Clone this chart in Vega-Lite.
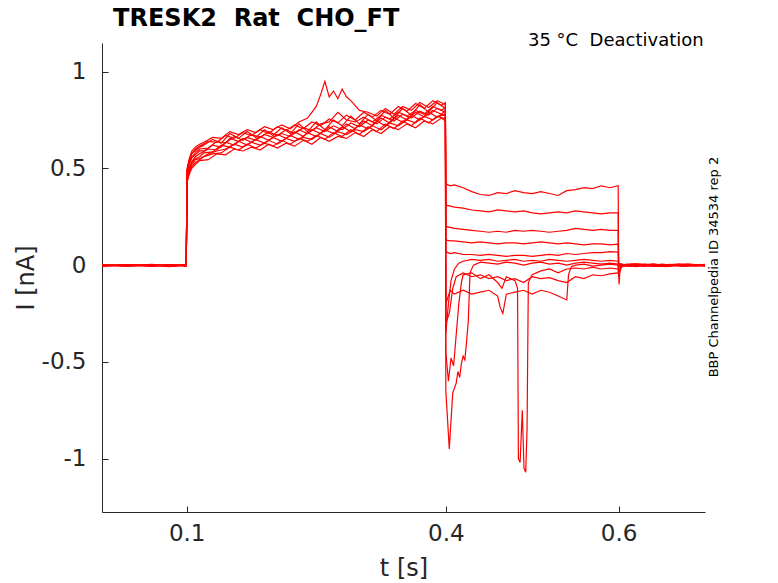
{
  "$schema": "https://vega.github.io/schema/vega-lite/v6.json",
  "width": 603,
  "height": 469,
  "autosize": "none",
  "padding": {"left": 102, "top": 43, "right": 73, "bottom": 71},
  "background": "white",
  "title": {
    "text": "TRESK2\u00a0\u00a0Rat\u00a0\u00a0CHO_FT",
    "anchor": "start",
    "font": "DejaVu Sans",
    "fontSize": 24,
    "fontWeight": "bold",
    "color": "#000000",
    "baseline": "bottom",
    "offset": -23,
    "dx": 99
  },
  "datasets": {
    "notes": [
      {"label": "35 °C\u00a0\u00a0Deactivation", "t": 0.6985, "i": 1.159, "a": 0},
      {"label": "BBP Channelpedia ID 34534 rep 2", "t": 0.7109, "i": -0.01, "a": 270}
    ]
  },
  "data": {
    "values": [
      {"s":1,"t":0.002,"i":0},{"s":1,"t":0.03,"i":-0.004},{"s":1,"t":0.06,"i":0.003},{"s":1,"t":0.08,"i":-0.005},{"s":1,"t":0.0995,"i":0.001},
      {"s":1,"t":0.1005,"i":0.49},{"s":1,"t":0.103,"i":0.54},{"s":1,"t":0.106,"i":0.58},{"s":1,"t":0.11,"i":0.59},{"s":1,"t":0.115,"i":0.61},{"s":1,"t":0.12,"i":0.62},
      {"s":1,"t":0.13,"i":0.65},{"s":1,"t":0.14,"i":0.63},{"s":1,"t":0.15,"i":0.68},{"s":1,"t":0.16,"i":0.655},{"s":1,"t":0.17,"i":0.69},{"s":1,"t":0.18,"i":0.66},
      {"s":1,"t":0.19,"i":0.7},{"s":1,"t":0.2,"i":0.67},{"s":1,"t":0.21,"i":0.71},{"s":1,"t":0.22,"i":0.68},{"s":1,"t":0.23,"i":0.73},{"s":1,"t":0.24,"i":0.69},
      {"s":1,"t":0.25,"i":0.74},{"s":1,"t":0.26,"i":0.7},{"s":1,"t":0.27,"i":0.75},{"s":1,"t":0.28,"i":0.72},{"s":1,"t":0.29,"i":0.77},{"s":1,"t":0.3,"i":0.73},
      {"s":1,"t":0.31,"i":0.78},{"s":1,"t":0.32,"i":0.745},{"s":1,"t":0.33,"i":0.8},{"s":1,"t":0.34,"i":0.76},{"s":1,"t":0.35,"i":0.81},{"s":1,"t":0.36,"i":0.775},
      {"s":1,"t":0.37,"i":0.83},{"s":1,"t":0.38,"i":0.79},{"s":1,"t":0.39,"i":0.84},{"s":1,"t":0.3995,"i":0.81},
      {"s":1,"t":0.4,"i":0.42},{"s":1,"t":0.405,"i":0.41},{"s":1,"t":0.41,"i":0.415},{"s":1,"t":0.42,"i":0.4},{"s":1,"t":0.43,"i":0.38},{"s":1,"t":0.44,"i":0.365},
      {"s":1,"t":0.45,"i":0.36},{"s":1,"t":0.46,"i":0.375},{"s":1,"t":0.47,"i":0.37},{"s":1,"t":0.48,"i":0.385},{"s":1,"t":0.49,"i":0.375},{"s":1,"t":0.5,"i":0.37},
      {"s":1,"t":0.51,"i":0.38},{"s":1,"t":0.52,"i":0.37},{"s":1,"t":0.53,"i":0.36},{"s":1,"t":0.54,"i":0.385},{"s":1,"t":0.55,"i":0.39},{"s":1,"t":0.56,"i":0.4},
      {"s":1,"t":0.57,"i":0.395},{"s":1,"t":0.58,"i":0.41},{"s":1,"t":0.59,"i":0.4},{"s":1,"t":0.5995,"i":0.41},
      {"s":1,"t":0.6,"i":-0.02},{"s":1,"t":0.6005,"i":-0.1},{"s":1,"t":0.602,"i":0},{"s":1,"t":0.62,"i":0.005},{"s":1,"t":0.64,"i":-0.006},{"s":1,"t":0.66,"i":0.003},{"s":1,"t":0.68,"i":-0.004},{"s":1,"t":0.7,"i":0.002},

      {"s":2,"t":0.002,"i":-0.003},{"s":2,"t":0.03,"i":0.002},{"s":2,"t":0.06,"i":-0.006},{"s":2,"t":0.08,"i":0.002},{"s":2,"t":0.0995,"i":-0.002},
      {"s":2,"t":0.1005,"i":0.44},{"s":2,"t":0.103,"i":0.49},{"s":2,"t":0.106,"i":0.52},{"s":2,"t":0.11,"i":0.545},{"s":2,"t":0.115,"i":0.55},{"s":2,"t":0.125,"i":0.575},
      {"s":2,"t":0.135,"i":0.59},{"s":2,"t":0.145,"i":0.6},{"s":2,"t":0.155,"i":0.625},{"s":2,"t":0.165,"i":0.61},{"s":2,"t":0.175,"i":0.635},{"s":2,"t":0.185,"i":0.62},
      {"s":2,"t":0.195,"i":0.645},{"s":2,"t":0.205,"i":0.625},{"s":2,"t":0.215,"i":0.655},{"s":2,"t":0.225,"i":0.64},{"s":2,"t":0.235,"i":0.66},{"s":2,"t":0.245,"i":0.65},
      {"s":2,"t":0.255,"i":0.68},{"s":2,"t":0.265,"i":0.66},{"s":2,"t":0.275,"i":0.69},{"s":2,"t":0.285,"i":0.675},{"s":2,"t":0.295,"i":0.7},{"s":2,"t":0.305,"i":0.69},
      {"s":2,"t":0.315,"i":0.72},{"s":2,"t":0.325,"i":0.7},{"s":2,"t":0.335,"i":0.735},{"s":2,"t":0.345,"i":0.72},{"s":2,"t":0.355,"i":0.75},{"s":2,"t":0.365,"i":0.735},
      {"s":2,"t":0.375,"i":0.77},{"s":2,"t":0.385,"i":0.75},{"s":2,"t":0.395,"i":0.78},{"s":2,"t":0.3995,"i":0.77},
      {"s":2,"t":0.4,"i":0.31},{"s":2,"t":0.405,"i":0.305},{"s":2,"t":0.41,"i":0.3},{"s":2,"t":0.42,"i":0.295},{"s":2,"t":0.43,"i":0.285},{"s":2,"t":0.44,"i":0.28},
      {"s":2,"t":0.45,"i":0.275},{"s":2,"t":0.46,"i":0.285},{"s":2,"t":0.47,"i":0.28},{"s":2,"t":0.48,"i":0.275},{"s":2,"t":0.49,"i":0.28},{"s":2,"t":0.5,"i":0.27},
      {"s":2,"t":0.51,"i":0.265},{"s":2,"t":0.52,"i":0.27},{"s":2,"t":0.53,"i":0.275},{"s":2,"t":0.54,"i":0.27},{"s":2,"t":0.55,"i":0.28},{"s":2,"t":0.56,"i":0.275},
      {"s":2,"t":0.57,"i":0.27},{"s":2,"t":0.58,"i":0.265},{"s":2,"t":0.59,"i":0.27},{"s":2,"t":0.5995,"i":0.27},
      {"s":2,"t":0.6,"i":0},{"s":2,"t":0.61,"i":-0.005},{"s":2,"t":0.63,"i":0.004},{"s":2,"t":0.65,"i":-0.003},{"s":2,"t":0.67,"i":0.006},{"s":2,"t":0.69,"i":-0.005},{"s":2,"t":0.7,"i":0},

      {"s":3,"t":0.002,"i":0.002},{"s":3,"t":0.03,"i":-0.005},{"s":3,"t":0.06,"i":0},{"s":3,"t":0.08,"i":-0.003},{"s":3,"t":0.0995,"i":0.003},
      {"s":3,"t":0.1005,"i":0.47},{"s":3,"t":0.103,"i":0.52},{"s":3,"t":0.106,"i":0.555},{"s":3,"t":0.11,"i":0.57},{"s":3,"t":0.115,"i":0.59},{"s":3,"t":0.12,"i":0.59},
      {"s":3,"t":0.13,"i":0.62},{"s":3,"t":0.14,"i":0.61},{"s":3,"t":0.15,"i":0.655},{"s":3,"t":0.16,"i":0.64},{"s":3,"t":0.17,"i":0.66},{"s":3,"t":0.18,"i":0.645},
      {"s":3,"t":0.19,"i":0.675},{"s":3,"t":0.2,"i":0.66},{"s":3,"t":0.21,"i":0.68},{"s":3,"t":0.22,"i":0.665},{"s":3,"t":0.23,"i":0.7},{"s":3,"t":0.24,"i":0.68},
      {"s":3,"t":0.25,"i":0.71},{"s":3,"t":0.26,"i":0.69},{"s":3,"t":0.27,"i":0.72},{"s":3,"t":0.28,"i":0.7},{"s":3,"t":0.29,"i":0.735},{"s":3,"t":0.3,"i":0.715},
      {"s":3,"t":0.31,"i":0.75},{"s":3,"t":0.32,"i":0.73},{"s":3,"t":0.33,"i":0.765},{"s":3,"t":0.34,"i":0.745},{"s":3,"t":0.35,"i":0.78},{"s":3,"t":0.36,"i":0.76},
      {"s":3,"t":0.37,"i":0.795},{"s":3,"t":0.38,"i":0.775},{"s":3,"t":0.39,"i":0.81},{"s":3,"t":0.3995,"i":0.79},
      {"s":3,"t":0.4,"i":0.2},{"s":3,"t":0.405,"i":0.195},{"s":3,"t":0.41,"i":0.19},{"s":3,"t":0.42,"i":0.185},{"s":3,"t":0.43,"i":0.18},{"s":3,"t":0.44,"i":0.175},
      {"s":3,"t":0.45,"i":0.17},{"s":3,"t":0.46,"i":0.175},{"s":3,"t":0.47,"i":0.17},{"s":3,"t":0.48,"i":0.18},{"s":3,"t":0.49,"i":0.175},{"s":3,"t":0.5,"i":0.18},
      {"s":3,"t":0.51,"i":0.175},{"s":3,"t":0.52,"i":0.17},{"s":3,"t":0.53,"i":0.175},{"s":3,"t":0.54,"i":0.18},{"s":3,"t":0.55,"i":0.19},{"s":3,"t":0.56,"i":0.185},
      {"s":3,"t":0.57,"i":0.18},{"s":3,"t":0.58,"i":0.185},{"s":3,"t":0.59,"i":0.18},{"s":3,"t":0.5995,"i":0.18},
      {"s":3,"t":0.6,"i":0},{"s":3,"t":0.615,"i":0.006},{"s":3,"t":0.635,"i":-0.004},{"s":3,"t":0.655,"i":0.002},{"s":3,"t":0.675,"i":-0.007},{"s":3,"t":0.695,"i":0.004},

      {"s":4,"t":0.002,"i":-0.005},{"s":4,"t":0.03,"i":0.001},{"s":4,"t":0.06,"i":-0.003},{"s":4,"t":0.08,"i":0.003},{"s":4,"t":0.0995,"i":-0.004},
      {"s":4,"t":0.1005,"i":0.43},{"s":4,"t":0.103,"i":0.47},{"s":4,"t":0.106,"i":0.5},{"s":4,"t":0.11,"i":0.52},{"s":4,"t":0.115,"i":0.54},{"s":4,"t":0.125,"i":0.545},
      {"s":4,"t":0.135,"i":0.575},{"s":4,"t":0.145,"i":0.57},{"s":4,"t":0.155,"i":0.6},{"s":4,"t":0.165,"i":0.59},{"s":4,"t":0.175,"i":0.61},{"s":4,"t":0.185,"i":0.595},
      {"s":4,"t":0.195,"i":0.625},{"s":4,"t":0.205,"i":0.605},{"s":4,"t":0.215,"i":0.63},{"s":4,"t":0.225,"i":0.615},{"s":4,"t":0.235,"i":0.645},{"s":4,"t":0.245,"i":0.625},
      {"s":4,"t":0.255,"i":0.66},{"s":4,"t":0.265,"i":0.64},{"s":4,"t":0.275,"i":0.665},{"s":4,"t":0.285,"i":0.655},{"s":4,"t":0.295,"i":0.685},{"s":4,"t":0.305,"i":0.665},
      {"s":4,"t":0.315,"i":0.7},{"s":4,"t":0.325,"i":0.68},{"s":4,"t":0.335,"i":0.715},{"s":4,"t":0.345,"i":0.7},{"s":4,"t":0.355,"i":0.73},{"s":4,"t":0.365,"i":0.71},
      {"s":4,"t":0.375,"i":0.745},{"s":4,"t":0.385,"i":0.73},{"s":4,"t":0.395,"i":0.76},{"s":4,"t":0.3995,"i":0.745},
      {"s":4,"t":0.4,"i":0.13},{"s":4,"t":0.405,"i":0.125},{"s":4,"t":0.41,"i":0.125},{"s":4,"t":0.42,"i":0.12},{"s":4,"t":0.43,"i":0.115},{"s":4,"t":0.44,"i":0.12},
      {"s":4,"t":0.45,"i":0.115},{"s":4,"t":0.46,"i":0.11},{"s":4,"t":0.47,"i":0.115},{"s":4,"t":0.48,"i":0.115},{"s":4,"t":0.49,"i":0.11},{"s":4,"t":0.5,"i":0.115},
      {"s":4,"t":0.51,"i":0.12},{"s":4,"t":0.52,"i":0.115},{"s":4,"t":0.53,"i":0.11},{"s":4,"t":0.54,"i":0.115},{"s":4,"t":0.55,"i":0.11},{"s":4,"t":0.56,"i":0.105},
      {"s":4,"t":0.57,"i":0.11},{"s":4,"t":0.58,"i":0.11},{"s":4,"t":0.59,"i":0.105},{"s":4,"t":0.5995,"i":0.108},
      {"s":4,"t":0.6,"i":0.005},{"s":4,"t":0.62,"i":-0.008},{"s":4,"t":0.64,"i":0.004},{"s":4,"t":0.66,"i":-0.002},{"s":4,"t":0.68,"i":0.007},{"s":4,"t":0.7,"i":-0.003},

      {"s":5,"t":0.002,"i":0.001},{"s":5,"t":0.03,"i":-0.002},{"s":5,"t":0.06,"i":0.004},{"s":5,"t":0.08,"i":-0.007},{"s":5,"t":0.0995,"i":0},
      {"s":5,"t":0.1005,"i":0.5},{"s":5,"t":0.103,"i":0.55},{"s":5,"t":0.106,"i":0.59},{"s":5,"t":0.11,"i":0.61},{"s":5,"t":0.115,"i":0.625},{"s":5,"t":0.12,"i":0.635},
      {"s":5,"t":0.13,"i":0.66},{"s":5,"t":0.14,"i":0.655},{"s":5,"t":0.15,"i":0.69},{"s":5,"t":0.16,"i":0.675},{"s":5,"t":0.17,"i":0.7},{"s":5,"t":0.18,"i":0.685},
      {"s":5,"t":0.19,"i":0.715},{"s":5,"t":0.2,"i":0.7},{"s":5,"t":0.21,"i":0.725},{"s":5,"t":0.22,"i":0.705},{"s":5,"t":0.23,"i":0.74},{"s":5,"t":0.24,"i":0.76},
      {"s":5,"t":0.25,"i":0.82},{"s":5,"t":0.255,"i":0.88},{"s":5,"t":0.26,"i":0.95},{"s":5,"t":0.265,"i":0.87},{"s":5,"t":0.27,"i":0.9},{"s":5,"t":0.275,"i":0.86},
      {"s":5,"t":0.28,"i":0.91},{"s":5,"t":0.285,"i":0.87},{"s":5,"t":0.29,"i":0.85},{"s":5,"t":0.3,"i":0.8},{"s":5,"t":0.31,"i":0.79},{"s":5,"t":0.32,"i":0.77},
      {"s":5,"t":0.33,"i":0.81},{"s":5,"t":0.34,"i":0.78},{"s":5,"t":0.35,"i":0.82},{"s":5,"t":0.36,"i":0.8},{"s":5,"t":0.37,"i":0.84},{"s":5,"t":0.38,"i":0.815},
      {"s":5,"t":0.39,"i":0.85},{"s":5,"t":0.3995,"i":0.83},
      {"s":5,"t":0.4,"i":0.07},{"s":5,"t":0.405,"i":0.06},{"s":5,"t":0.41,"i":0.065},{"s":5,"t":0.42,"i":0.055},{"s":5,"t":0.43,"i":0.055},{"s":5,"t":0.44,"i":0.05},
      {"s":5,"t":0.45,"i":0.055},{"s":5,"t":0.46,"i":0.05},{"s":5,"t":0.47,"i":0.045},{"s":5,"t":0.48,"i":0.05},{"s":5,"t":0.49,"i":0.05},{"s":5,"t":0.5,"i":0.045},
      {"s":5,"t":0.51,"i":0.05},{"s":5,"t":0.52,"i":0.055},{"s":5,"t":0.53,"i":0.05},{"s":5,"t":0.54,"i":0.06},{"s":5,"t":0.55,"i":0.055},{"s":5,"t":0.56,"i":0.06},
      {"s":5,"t":0.57,"i":0.065},{"s":5,"t":0.58,"i":0.065},{"s":5,"t":0.59,"i":0.07},{"s":5,"t":0.5995,"i":0.067},
      {"s":5,"t":0.6,"i":-0.04},{"s":5,"t":0.605,"i":0},{"s":5,"t":0.625,"i":0.005},{"s":5,"t":0.645,"i":-0.006},{"s":5,"t":0.665,"i":0.003},{"s":5,"t":0.685,"i":-0.003},{"s":5,"t":0.7,"i":0.004},

      {"s":6,"t":0.002,"i":-0.002},{"s":6,"t":0.03,"i":0.003},{"s":6,"t":0.06,"i":-0.004},{"s":6,"t":0.08,"i":0},{"s":6,"t":0.0995,"i":-0.003},
      {"s":6,"t":0.1005,"i":0.46},{"s":6,"t":0.103,"i":0.5},{"s":6,"t":0.106,"i":0.535},{"s":6,"t":0.11,"i":0.56},{"s":6,"t":0.115,"i":0.575},{"s":6,"t":0.125,"i":0.6},
      {"s":6,"t":0.135,"i":0.595},{"s":6,"t":0.145,"i":0.635},{"s":6,"t":0.155,"i":0.62},{"s":6,"t":0.165,"i":0.655},{"s":6,"t":0.175,"i":0.635},{"s":6,"t":0.185,"i":0.665},
      {"s":6,"t":0.195,"i":0.645},{"s":6,"t":0.205,"i":0.675},{"s":6,"t":0.215,"i":0.655},{"s":6,"t":0.225,"i":0.69},{"s":6,"t":0.235,"i":0.665},{"s":6,"t":0.245,"i":0.7},
      {"s":6,"t":0.255,"i":0.68},{"s":6,"t":0.265,"i":0.715},{"s":6,"t":0.275,"i":0.69},{"s":6,"t":0.285,"i":0.73},{"s":6,"t":0.295,"i":0.705},{"s":6,"t":0.305,"i":0.745},
      {"s":6,"t":0.315,"i":0.72},{"s":6,"t":0.325,"i":0.76},{"s":6,"t":0.335,"i":0.735},{"s":6,"t":0.345,"i":0.775},{"s":6,"t":0.355,"i":0.75},{"s":6,"t":0.365,"i":0.79},
      {"s":6,"t":0.375,"i":0.765},{"s":6,"t":0.385,"i":0.8},{"s":6,"t":0.395,"i":0.78},{"s":6,"t":0.3995,"i":0.8},
      {"s":6,"t":0.4,"i":-0.35},{"s":6,"t":0.403,"i":-0.2},{"s":6,"t":0.406,"i":-0.08},{"s":6,"t":0.41,"i":-0.02},{"s":6,"t":0.415,"i":0.01},{"s":6,"t":0.42,"i":0.02},
      {"s":6,"t":0.43,"i":0.03},{"s":6,"t":0.44,"i":0.025},{"s":6,"t":0.45,"i":0.03},{"s":6,"t":0.46,"i":0.02},{"s":6,"t":0.47,"i":0.025},{"s":6,"t":0.48,"i":0.03},
      {"s":6,"t":0.49,"i":0.02},{"s":6,"t":0.5,"i":0.025},{"s":6,"t":0.51,"i":0.02},{"s":6,"t":0.52,"i":0.03},{"s":6,"t":0.53,"i":0.025},{"s":6,"t":0.54,"i":0.02},
      {"s":6,"t":0.55,"i":0.025},{"s":6,"t":0.56,"i":0.03},{"s":6,"t":0.57,"i":0.025},{"s":6,"t":0.58,"i":0.02},{"s":6,"t":0.59,"i":0.025},{"s":6,"t":0.5995,"i":0.02},
      {"s":6,"t":0.6,"i":0},{"s":6,"t":0.61,"i":0.004},{"s":6,"t":0.63,"i":-0.007},{"s":6,"t":0.65,"i":0.005},{"s":6,"t":0.67,"i":-0.004},{"s":6,"t":0.69,"i":0.003},

      {"s":7,"t":0.002,"i":0.003},{"s":7,"t":0.03,"i":-0.006},{"s":7,"t":0.06,"i":0.001},{"s":7,"t":0.08,"i":-0.002},{"s":7,"t":0.0995,"i":-0.005},
      {"s":7,"t":0.1005,"i":0.45},{"s":7,"t":0.103,"i":0.5},{"s":7,"t":0.106,"i":0.53},{"s":7,"t":0.11,"i":0.55},{"s":7,"t":0.115,"i":0.56},{"s":7,"t":0.12,"i":0.58},
      {"s":7,"t":0.13,"i":0.585},{"s":7,"t":0.14,"i":0.62},{"s":7,"t":0.15,"i":0.61},{"s":7,"t":0.16,"i":0.64},{"s":7,"t":0.17,"i":0.62},{"s":7,"t":0.18,"i":0.65},
      {"s":7,"t":0.19,"i":0.63},{"s":7,"t":0.2,"i":0.66},{"s":7,"t":0.21,"i":0.64},{"s":7,"t":0.22,"i":0.67},{"s":7,"t":0.23,"i":0.65},{"s":7,"t":0.24,"i":0.685},
      {"s":7,"t":0.25,"i":0.665},{"s":7,"t":0.26,"i":0.7},{"s":7,"t":0.27,"i":0.68},{"s":7,"t":0.28,"i":0.715},{"s":7,"t":0.29,"i":0.69},{"s":7,"t":0.3,"i":0.725},
      {"s":7,"t":0.31,"i":0.705},{"s":7,"t":0.32,"i":0.745},{"s":7,"t":0.33,"i":0.72},{"s":7,"t":0.34,"i":0.76},{"s":7,"t":0.35,"i":0.74},{"s":7,"t":0.36,"i":0.775},
      {"s":7,"t":0.37,"i":0.75},{"s":7,"t":0.38,"i":0.79},{"s":7,"t":0.39,"i":0.765},{"s":7,"t":0.3995,"i":0.78},
      {"s":7,"t":0.4,"i":-0.65},{"s":7,"t":0.404,"i":-0.95},{"s":7,"t":0.408,"i":-0.66},{"s":7,"t":0.412,"i":-0.61},{"s":7,"t":0.414,"i":-0.55},{"s":7,"t":0.416,"i":-0.58},
      {"s":7,"t":0.418,"i":-0.51},{"s":7,"t":0.42,"i":-0.47},{"s":7,"t":0.422,"i":-0.49},{"s":7,"t":0.4235,"i":-0.42},{"s":7,"t":0.426,"i":-0.29},{"s":7,"t":0.428,"i":-0.04},
      {"s":7,"t":0.432,"i":0},{"s":7,"t":0.44,"i":0.015},{"s":7,"t":0.45,"i":0.01},{"s":7,"t":0.46,"i":0.005},{"s":7,"t":0.47,"i":0.015},{"s":7,"t":0.48,"i":0.01},
      {"s":7,"t":0.49,"i":0},{"s":7,"t":0.5,"i":0.01},{"s":7,"t":0.51,"i":0.015},{"s":7,"t":0.52,"i":0.005},{"s":7,"t":0.53,"i":0.01},{"s":7,"t":0.54,"i":0},
      {"s":7,"t":0.55,"i":0.01},{"s":7,"t":0.56,"i":0.015},{"s":7,"t":0.57,"i":0.01},{"s":7,"t":0.58,"i":0.005},{"s":7,"t":0.59,"i":0.01},{"s":7,"t":0.5995,"i":0.005},
      {"s":7,"t":0.6,"i":-0.06},{"s":7,"t":0.603,"i":0},{"s":7,"t":0.62,"i":-0.003},{"s":7,"t":0.64,"i":0.006},{"s":7,"t":0.66,"i":-0.005},{"s":7,"t":0.68,"i":0.002},{"s":7,"t":0.7,"i":-0.006},

      {"s":8,"t":0.002,"i":-0.004},{"s":8,"t":0.03,"i":0},{"s":8,"t":0.06,"i":-0.002},{"s":8,"t":0.08,"i":-0.008},{"s":8,"t":0.0995,"i":0.002},
      {"s":8,"t":0.1005,"i":0.48},{"s":8,"t":0.103,"i":0.53},{"s":8,"t":0.106,"i":0.56},{"s":8,"t":0.11,"i":0.58},{"s":8,"t":0.115,"i":0.6},{"s":8,"t":0.125,"i":0.605},
      {"s":8,"t":0.135,"i":0.64},{"s":8,"t":0.145,"i":0.63},{"s":8,"t":0.155,"i":0.665},{"s":8,"t":0.165,"i":0.645},{"s":8,"t":0.175,"i":0.675},{"s":8,"t":0.185,"i":0.66},
      {"s":8,"t":0.195,"i":0.69},{"s":8,"t":0.205,"i":0.67},{"s":8,"t":0.215,"i":0.7},{"s":8,"t":0.225,"i":0.68},{"s":8,"t":0.235,"i":0.71},{"s":8,"t":0.245,"i":0.695},
      {"s":8,"t":0.255,"i":0.73},{"s":8,"t":0.265,"i":0.74},{"s":8,"t":0.275,"i":0.79},{"s":8,"t":0.285,"i":0.75},{"s":8,"t":0.295,"i":0.74},{"s":8,"t":0.305,"i":0.765},
      {"s":8,"t":0.315,"i":0.74},{"s":8,"t":0.325,"i":0.775},{"s":8,"t":0.335,"i":0.755},{"s":8,"t":0.345,"i":0.79},{"s":8,"t":0.355,"i":0.77},{"s":8,"t":0.365,"i":0.8},
      {"s":8,"t":0.375,"i":0.78},{"s":8,"t":0.385,"i":0.82},{"s":8,"t":0.395,"i":0.8},{"s":8,"t":0.3995,"i":0.815},
      {"s":8,"t":0.4,"i":-0.45},{"s":8,"t":0.403,"i":-0.6},{"s":8,"t":0.406,"i":-0.48},{"s":8,"t":0.409,"i":-0.52},{"s":8,"t":0.412,"i":-0.36},{"s":8,"t":0.415,"i":-0.2},
      {"s":8,"t":0.418,"i":-0.09},{"s":8,"t":0.42,"i":-0.05},{"s":8,"t":0.43,"i":-0.04},{"s":8,"t":0.44,"i":-0.07},{"s":8,"t":0.45,"i":-0.05},{"s":8,"t":0.46,"i":-0.09},
      {"s":8,"t":0.465,"i":-0.12},{"s":8,"t":0.47,"i":-0.06},{"s":8,"t":0.48,"i":-0.08},{"s":8,"t":0.483,"i":-0.12},{"s":8,"t":0.484,"i":-1},{"s":8,"t":0.486,"i":-1.02},
      {"s":8,"t":0.4885,"i":-0.75},{"s":8,"t":0.4905,"i":-1.05},{"s":8,"t":0.4925,"i":-1.07},{"s":8,"t":0.494,"i":-0.85},{"s":8,"t":0.4955,"i":-0.09},{"s":8,"t":0.5,"i":-0.05},
      {"s":8,"t":0.51,"i":-0.03},{"s":8,"t":0.52,"i":-0.02},{"s":8,"t":0.53,"i":-0.04},{"s":8,"t":0.54,"i":-0.02},{"s":8,"t":0.55,"i":-0.015},{"s":8,"t":0.56,"i":-0.02},
      {"s":8,"t":0.57,"i":-0.01},{"s":8,"t":0.58,"i":-0.02},{"s":8,"t":0.59,"i":-0.015},{"s":8,"t":0.5995,"i":-0.02},
      {"s":8,"t":0.6,"i":0.01},{"s":8,"t":0.615,"i":-0.006},{"s":8,"t":0.635,"i":0.003},{"s":8,"t":0.655,"i":-0.008},{"s":8,"t":0.675,"i":0.004},{"s":8,"t":0.695,"i":-0.002},

      {"s":9,"t":0.002,"i":0},{"s":9,"t":0.03,"i":-0.003},{"s":9,"t":0.06,"i":0.002},{"s":9,"t":0.08,"i":-0.004},{"s":9,"t":0.0995,"i":0.001},
      {"s":9,"t":0.1005,"i":0.43},{"s":9,"t":0.103,"i":0.48},{"s":9,"t":0.106,"i":0.51},{"s":9,"t":0.11,"i":0.53},{"s":9,"t":0.115,"i":0.545},{"s":9,"t":0.12,"i":0.56},
      {"s":9,"t":0.13,"i":0.575},{"s":9,"t":0.14,"i":0.58},{"s":9,"t":0.15,"i":0.61},{"s":9,"t":0.16,"i":0.595},{"s":9,"t":0.17,"i":0.625},{"s":9,"t":0.18,"i":0.605},
      {"s":9,"t":0.19,"i":0.63},{"s":9,"t":0.2,"i":0.615},{"s":9,"t":0.21,"i":0.645},{"s":9,"t":0.22,"i":0.625},{"s":9,"t":0.23,"i":0.655},{"s":9,"t":0.24,"i":0.64},
      {"s":9,"t":0.25,"i":0.67},{"s":9,"t":0.26,"i":0.65},{"s":9,"t":0.27,"i":0.685},{"s":9,"t":0.28,"i":0.665},{"s":9,"t":0.29,"i":0.7},{"s":9,"t":0.3,"i":0.675},
      {"s":9,"t":0.31,"i":0.715},{"s":9,"t":0.32,"i":0.69},{"s":9,"t":0.33,"i":0.73},{"s":9,"t":0.34,"i":0.705},{"s":9,"t":0.35,"i":0.745},{"s":9,"t":0.36,"i":0.72},
      {"s":9,"t":0.37,"i":0.76},{"s":9,"t":0.38,"i":0.735},{"s":9,"t":0.39,"i":0.77},{"s":9,"t":0.3995,"i":0.755},
      {"s":9,"t":0.4,"i":-0.3},{"s":9,"t":0.404,"i":-0.25},{"s":9,"t":0.408,"i":-0.12},{"s":9,"t":0.412,"i":-0.06},{"s":9,"t":0.42,"i":-0.04},{"s":9,"t":0.43,"i":-0.06},
      {"s":9,"t":0.44,"i":-0.05},{"s":9,"t":0.45,"i":-0.07},{"s":9,"t":0.46,"i":-0.06},{"s":9,"t":0.47,"i":-0.08},{"s":9,"t":0.48,"i":-0.07},{"s":9,"t":0.49,"i":-0.09},
      {"s":9,"t":0.5,"i":-0.06},{"s":9,"t":0.51,"i":-0.07},{"s":9,"t":0.52,"i":-0.065},{"s":9,"t":0.53,"i":-0.08},{"s":9,"t":0.54,"i":-0.09},{"s":9,"t":0.55,"i":-0.06},
      {"s":9,"t":0.56,"i":-0.07},{"s":9,"t":0.57,"i":-0.05},{"s":9,"t":0.58,"i":-0.055},{"s":9,"t":0.59,"i":-0.045},{"s":9,"t":0.5995,"i":-0.04},
      {"s":9,"t":0.6,"i":-0.01},{"s":9,"t":0.62,"i":0.006},{"s":9,"t":0.64,"i":-0.004},{"s":9,"t":0.66,"i":0.004},{"s":9,"t":0.68,"i":-0.005},{"s":9,"t":0.7,"i":0.001},

      {"s":10,"t":0.002,"i":-0.006},{"s":10,"t":0.03,"i":0.001},{"s":10,"t":0.06,"i":-0.005},{"s":10,"t":0.08,"i":0.001},{"s":10,"t":0.0995,"i":-0.003},
      {"s":10,"t":0.1005,"i":0.49},{"s":10,"t":0.103,"i":0.54},{"s":10,"t":0.106,"i":0.575},{"s":10,"t":0.11,"i":0.6},{"s":10,"t":0.115,"i":0.615},{"s":10,"t":0.125,"i":0.64},
      {"s":10,"t":0.135,"i":0.635},{"s":10,"t":0.145,"i":0.67},{"s":10,"t":0.155,"i":0.655},{"s":10,"t":0.165,"i":0.685},{"s":10,"t":0.175,"i":0.67},{"s":10,"t":0.185,"i":0.7},
      {"s":10,"t":0.195,"i":0.68},{"s":10,"t":0.205,"i":0.715},{"s":10,"t":0.215,"i":0.695},{"s":10,"t":0.225,"i":0.725},{"s":10,"t":0.235,"i":0.705},{"s":10,"t":0.245,"i":0.74},
      {"s":10,"t":0.255,"i":0.72},{"s":10,"t":0.265,"i":0.755},{"s":10,"t":0.275,"i":0.735},{"s":10,"t":0.285,"i":0.775},{"s":10,"t":0.295,"i":0.75},{"s":10,"t":0.305,"i":0.79},
      {"s":10,"t":0.315,"i":0.765},{"s":10,"t":0.325,"i":0.8},{"s":10,"t":0.335,"i":0.78},{"s":10,"t":0.345,"i":0.82},{"s":10,"t":0.355,"i":0.795},{"s":10,"t":0.365,"i":0.835},
      {"s":10,"t":0.375,"i":0.81},{"s":10,"t":0.385,"i":0.85},{"s":10,"t":0.395,"i":0.825},{"s":10,"t":0.3995,"i":0.84},
      {"s":10,"t":0.4,"i":-0.2},{"s":10,"t":0.405,"i":-0.13},{"s":10,"t":0.41,"i":-0.15},{"s":10,"t":0.42,"i":-0.13},{"s":10,"t":0.43,"i":-0.15},{"s":10,"t":0.44,"i":-0.14},
      {"s":10,"t":0.45,"i":-0.13},{"s":10,"t":0.46,"i":-0.16},{"s":10,"t":0.463,"i":-0.22},{"s":10,"t":0.466,"i":-0.25},{"s":10,"t":0.47,"i":-0.15},{"s":10,"t":0.48,"i":-0.14},
      {"s":10,"t":0.49,"i":-0.13},{"s":10,"t":0.5,"i":-0.15},{"s":10,"t":0.51,"i":-0.13},{"s":10,"t":0.52,"i":-0.14},{"s":10,"t":0.53,"i":-0.16},{"s":10,"t":0.54,"i":-0.18},
      {"s":10,"t":0.542,"i":-0.05},{"s":10,"t":0.545,"i":-0.01},{"s":10,"t":0.55,"i":0},{"s":10,"t":0.56,"i":0.005},{"s":10,"t":0.57,"i":-0.005},{"s":10,"t":0.58,"i":0},
      {"s":10,"t":0.59,"i":0.005},{"s":10,"t":0.5995,"i":0},
      {"s":10,"t":0.6,"i":0},{"s":10,"t":0.61,"i":-0.004},{"s":10,"t":0.63,"i":0.005},{"s":10,"t":0.65,"i":-0.006},{"s":10,"t":0.67,"i":0.002},{"s":10,"t":0.69,"i":-0.004}
    ]
  },
  "encoding": {
    "x": {
      "field": "t",
      "type": "quantitative",
      "scale": {"domain": [0.002, 0.7], "nice": false, "zero": false},
      "axis": {
        "title": "t [s]",
        "values": [0.1, 0.4, 0.6],
        "labelExpr": "datum.value + ''",
        "grid": false,
        "tickSize": -6,
        "labelPadding": 16,
        "titlePadding": 11
      }
    },
    "y": {
      "field": "i",
      "type": "quantitative",
      "scale": {"domain": [-1.276, 1.148], "nice": false, "zero": false},
      "axis": {
        "title": "I [nA]",
        "values": [-1, -0.5, 0, 0.5, 1],
        "labelExpr": "datum.value + ''",
        "grid": false,
        "tickSize": -6,
        "labelPadding": 22,
        "titlePadding": 3
      }
    }
  },
  "layer": [
    {
      "mark": {"type": "line", "color": "#ff0000", "strokeWidth": 1.2, "clip": true},
      "encoding": {"detail": {"field": "s", "type": "nominal"}}
    },
    {
      "data": {"name": "notes"},
      "transform": [{"filter": "datum.a == 0"}],
      "mark": {
        "type": "text",
        "align": "right",
        "baseline": "middle",
        "font": "DejaVu Sans",
        "fontSize": 18,
        "fontWeight": "normal",
        "color": "#000000"
      },
      "encoding": {"text": {"field": "label"}}
    },
    {
      "data": {"name": "notes"},
      "transform": [{"filter": "datum.a == 270"}],
      "mark": {
        "type": "text",
        "angle": 270,
        "align": "center",
        "baseline": "middle",
        "font": "DejaVu Sans",
        "fontSize": 13,
        "fontWeight": "normal",
        "color": "#000000"
      },
      "encoding": {"text": {"field": "label"}}
    }
  ],
  "config": {
    "view": {"stroke": null},
    "axis": {
      "domainColor": "#262626",
      "tickColor": "#262626",
      "labelColor": "#262626",
      "titleColor": "#262626",
      "labelFont": "DejaVu Sans",
      "titleFont": "DejaVu Sans",
      "labelFontSize": 23,
      "titleFontSize": 24,
      "titleFontWeight": "normal",
      "domainWidth": 1,
      "tickWidth": 1
    }
  }
}
